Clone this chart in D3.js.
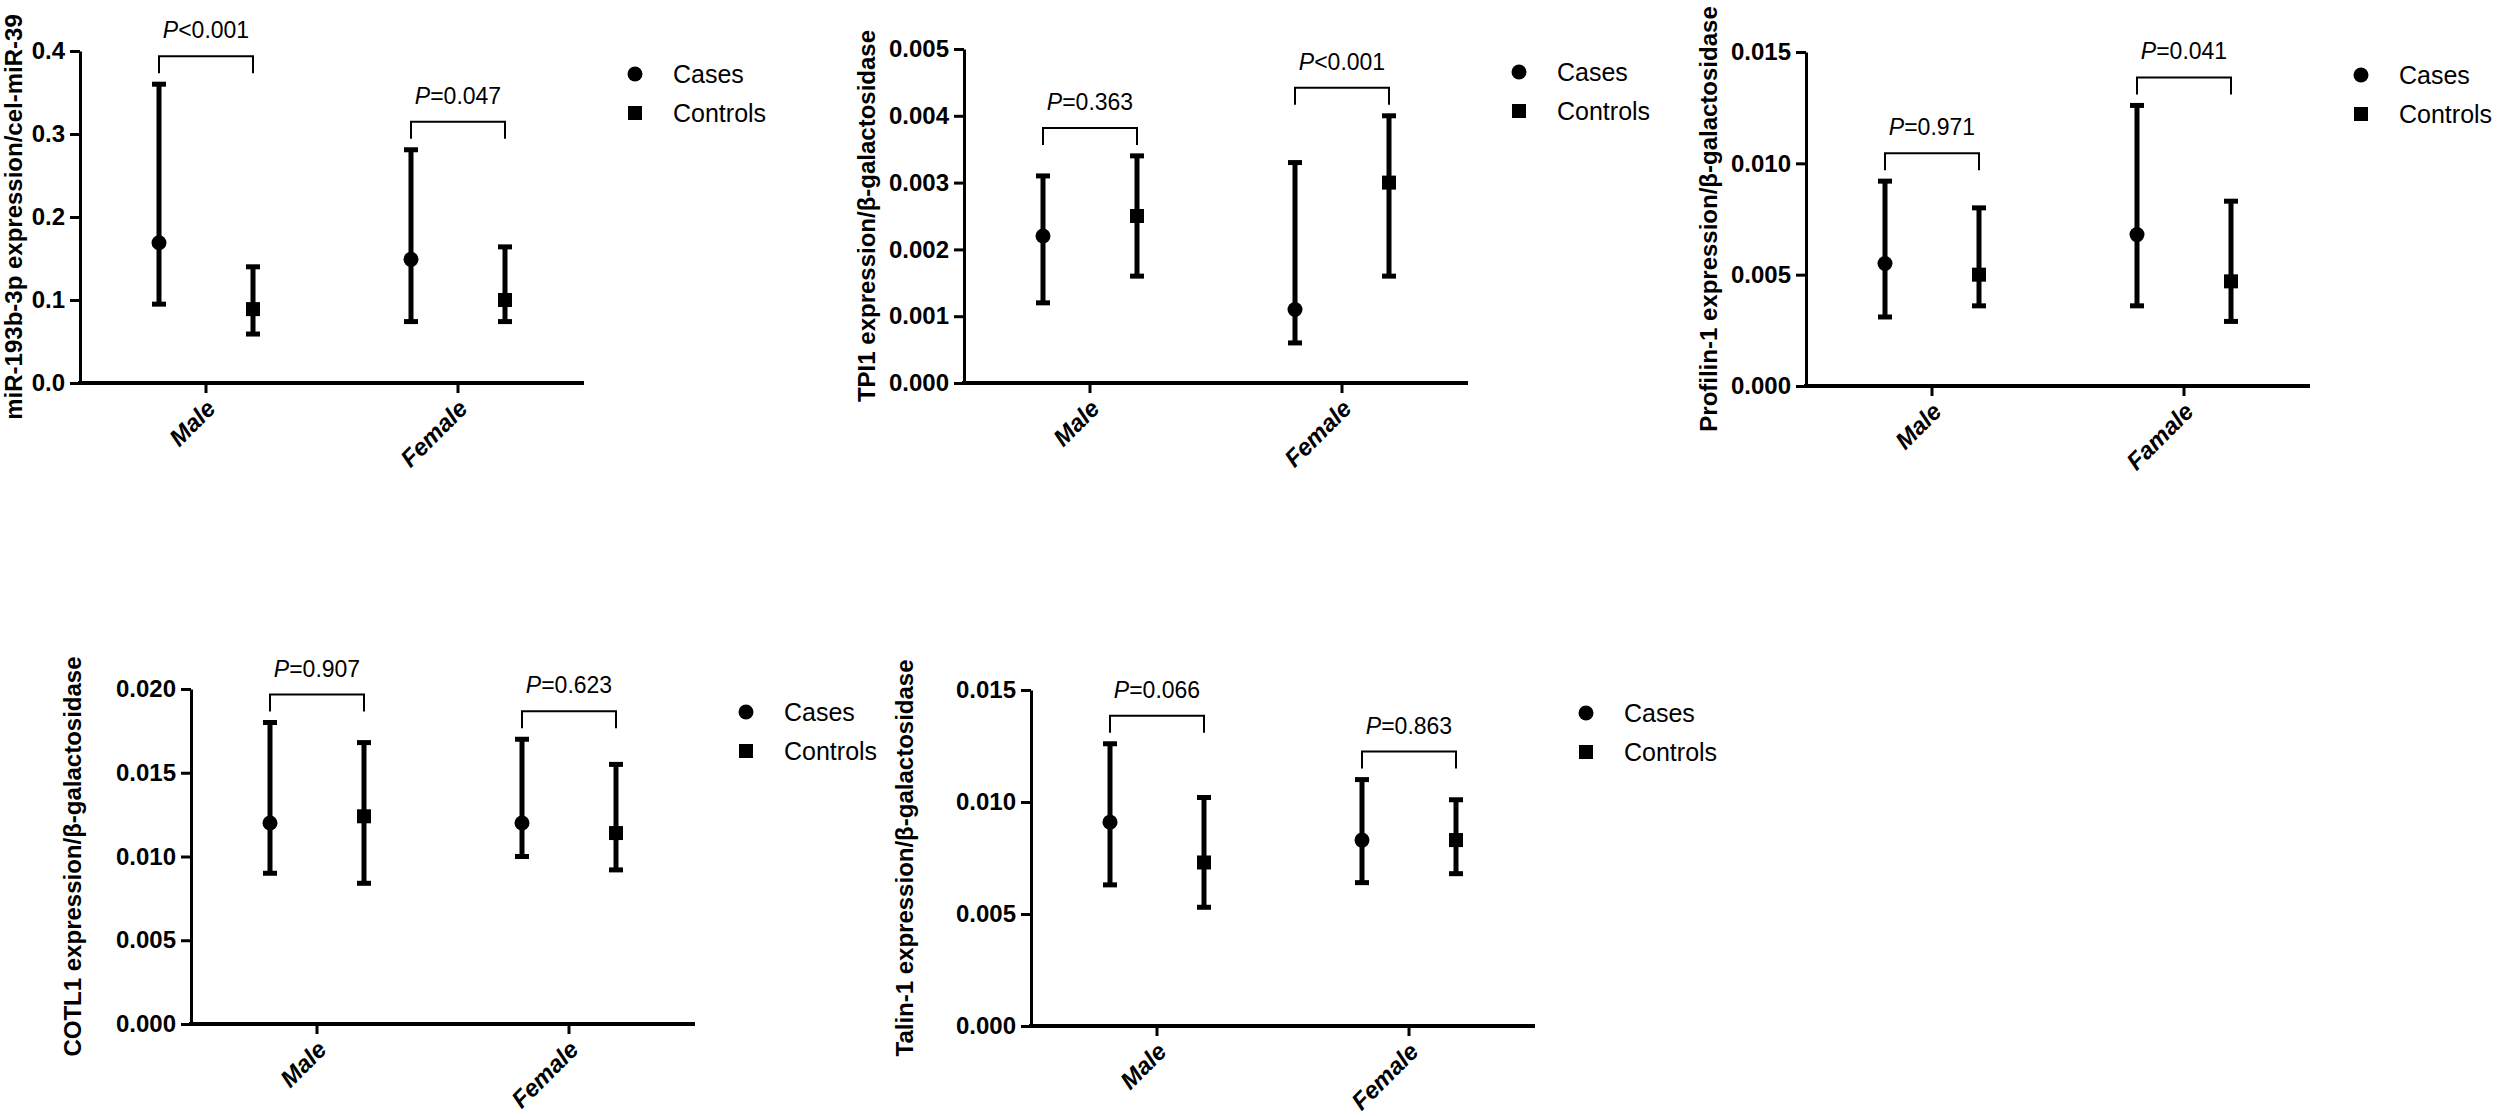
<!DOCTYPE html>
<html>
<head>
<meta charset="utf-8">
<script src="https://cdn.jsdelivr.net/npm/d3@7"></script>
<style>
  body { margin: 0; background: #fff; }
  text { font-family: "Liberation Sans", Arial, sans-serif; fill: #000; }
</style>
</head>
<body>
<svg id="chart"></svg>
<script>
// groups and series
const groups = ["Male", "Female"];
const groupsProfilin = ["Male", "Famale"];
const series = ["Cases", "Controls"];

// values in order: Male Cases, Male Controls, Female Cases, Female Controls
const mirMean = [0.169, 0.089, 0.149, 0.100];
const mirLow = [0.095, 0.059, 0.074, 0.074];
const mirHigh = [0.360, 0.140, 0.281, 0.164];
const mirP = ["<0.001", "=0.047"];
const mirTicks = [0, 0.1, 0.2, 0.3, 0.4];

const tpiMean = [0.0022, 0.0025, 0.0011, 0.0030];
const tpiLow = [0.0012, 0.0016, 0.0006, 0.0016];
const tpiHigh = [0.0031, 0.0034, 0.0033, 0.0040];
const tpiP = ["=0.363", "<0.001"];
const tpiTicks = [0, 0.001, 0.002, 0.003, 0.004, 0.005];

const pfnMean = [0.0055, 0.0050, 0.0068, 0.0047];
const pfnLow = [0.0031, 0.0036, 0.0036, 0.0029];
const pfnHigh = [0.0092, 0.0080, 0.0126, 0.0083];
const pfnP = ["=0.971", "=0.041"];
const pfnTicks = [0, 0.005, 0.010, 0.015];

const cotMean = [0.0120, 0.0124, 0.0120, 0.0114];
const cotLow = [0.0090, 0.0084, 0.0100, 0.0092];
const cotHigh = [0.0180, 0.0168, 0.0170, 0.0155];
const cotP = ["=0.907", "=0.623"];
const cotTicks = [0, 0.005, 0.010, 0.015, 0.020];

const talMean = [0.0091, 0.0073, 0.0083, 0.0083];
const talLow = [0.0063, 0.0053, 0.0064, 0.0068];
const talHigh = [0.0126, 0.0102, 0.0110, 0.0101];
const talP = ["=0.066", "=0.863"];
const talTicks = [0, 0.005, 0.010, 0.015];

const width = 2500;
const height = 1116;
const axisLen = 504;

const svg = d3.select("#chart")
    .attr("width", width)
    .attr("height", height);

// panel layout (pixels)
const panels = [
    { title: "miR-193b-3p expression/cel-miR-39", groups: groups, mean: mirMean, low: mirLow, high: mirHigh, p: mirP, ticks: mirTicks, fmt: ".1f",
      x0: 80, yTop: 51, yBot: 383, titleOff: 58 },
    { title: "TPI1 expression/\u03b2-galactosidase", groups: groups, mean: tpiMean, low: tpiLow, high: tpiHigh, p: tpiP, ticks: tpiTicks, fmt: ".3f",
      x0: 964, yTop: 49, yBot: 383, titleOff: 89 },
    { title: "Profilin-1 expression/\u03b2-galactosidase", groups: groupsProfilin, mean: pfnMean, low: pfnLow, high: pfnHigh, p: pfnP, ticks: pfnTicks, fmt: ".3f",
      x0: 1806, yTop: 52, yBot: 386, titleOff: 89 },
    { title: "COTL1 expression/\u03b2-galactosidase", groups: groups, mean: cotMean, low: cotLow, high: cotHigh, p: cotP, ticks: cotTicks, fmt: ".3f",
      x0: 191, yTop: 689, yBot: 1024, titleOff: 110 },
    { title: "Talin-1 expression/\u03b2-galactosidase", groups: groups, mean: talMean, low: talLow, high: talHigh, p: talP, ticks: talTicks, fmt: ".3f",
      x0: 1031, yTop: 690, yBot: 1026, titleOff: 118 }
];

function drawPanel(cfg) {
    const g = svg.append("g");

    const y = d3.scaleLinear()
        .domain([0, d3.max(cfg.ticks)])
        .range([cfg.yBot, cfg.yTop]);

    const xGroup = d3.scaleBand()
        .domain(cfg.groups)
        .range([cfg.x0, cfg.x0 + axisLen]);

    const xSeries = d3.scalePoint()
        .domain(series)
        .range([-47, 47]);

    // y axis
    const yAxis = g.append("g")
        .attr("transform", `translate(${cfg.x0},0)`)
        .call(d3.axisLeft(y)
            .tickValues(cfg.ticks)
            .tickFormat(d3.format(cfg.fmt))
            .tickSize(10)
            .tickSizeOuter(0)
            .tickPadding(5));
    yAxis.select(".domain").attr("stroke", "#000").attr("stroke-width", 3);
    yAxis.selectAll(".tick line").attr("stroke", "#000").attr("stroke-width", 3);
    yAxis.selectAll(".tick text")
        .style("font-size", "24px")
        .style("font-weight", "bold");

    // x axis
    const xAxis = g.append("g")
        .attr("transform", `translate(0,${cfg.yBot})`)
        .call(d3.axisBottom(xGroup)
            .tickSize(10)
            .tickSizeOuter(0));
    xAxis.select(".domain").attr("stroke", "#000").attr("stroke-width", 4)
        .attr("d", `M${cfg.x0 - 2},0H${cfg.x0 + axisLen}`);
    xAxis.selectAll(".tick line").attr("stroke", "#000").attr("stroke-width", 3);
    xAxis.selectAll(".tick text")
        .attr("x", 0)
        .attr("y", 0)
        .attr("dy", 0)
        .attr("text-anchor", "end")
        .attr("transform", "translate(11,27) rotate(-45)")
        .style("font-size", "24px")
        .style("font-weight", "bold")
        .style("font-style", "italic");

    // y title
    g.append("text")
        .attr("transform", `translate(${cfg.x0 - cfg.titleOff},${(cfg.yTop + cfg.yBot) / 2}) rotate(-90)`)
        .attr("text-anchor", "middle")
        .style("font-size", "24px")
        .style("font-weight", "bold")
        .text(cfg.title);

    // points
    const pts = [];
    cfg.groups.forEach((grp, gi) => {
        series.forEach((s, si) => {
            const k = gi * 2 + si;
            pts.push({ group: grp, series: s, mean: cfg.mean[k], low: cfg.low[k], high: cfg.high[k] });
        });
    });
    const px = d => xGroup(d.group) + xGroup.bandwidth() / 2 + xSeries(d.series);

    const bars = g.append("g");
    bars.selectAll("line.err")
        .data(pts)
        .enter().append("line")
        .attr("class", "err")
        .attr("x1", px).attr("x2", px)
        .attr("y1", d => y(d.low)).attr("y2", d => y(d.high))
        .attr("stroke", "#000").attr("stroke-width", 5);
    ["low", "high"].forEach(key => {
        bars.selectAll("line.cap-" + key)
            .data(pts)
            .enter().append("line")
            .attr("class", "cap-" + key)
            .attr("x1", d => px(d) - 7).attr("x2", d => px(d) + 7)
            .attr("y1", d => y(d[key])).attr("y2", d => y(d[key]))
            .attr("stroke", "#000").attr("stroke-width", 5);
    });
    bars.selectAll("circle")
        .data(pts.filter(d => d.series === "Cases"))
        .enter().append("circle")
        .attr("cx", px).attr("cy", d => y(d.mean))
        .attr("r", 7.5)
        .attr("fill", "#000");
    bars.selectAll("rect")
        .data(pts.filter(d => d.series === "Controls"))
        .enter().append("rect")
        .attr("x", d => px(d) - 7).attr("y", d => y(d.mean) - 7)
        .attr("width", 14).attr("height", 14)
        .attr("fill", "#000");

    // significance brackets
    cfg.groups.forEach((grp, gi) => {
        const a = pts[gi * 2], b = pts[gi * 2 + 1];
        const xa = px(a), xb = px(b);
        const legBottom = y(Math.max(a.high, b.high)) - 11;
        const top = legBottom - 17;
        g.append("path")
            .attr("d", `M${xa},${legBottom}V${top}H${xb}V${legBottom}`)
            .attr("fill", "none")
            .attr("stroke", "#000")
            .attr("stroke-width", 2);
        const t = g.append("text")
            .attr("x", (xa + xb) / 2)
            .attr("y", top - 18)
            .attr("text-anchor", "middle")
            .style("font-size", "23px");
        t.append("tspan").style("font-style", "italic").text("P");
        t.append("tspan").text(cfg.p[gi]);
    });

    // legend
    const lx = cfg.x0 + 555;
    const leg = g.append("g");
    leg.append("circle")
        .attr("cx", lx).attr("cy", cfg.yTop + 23).attr("r", 7.5).attr("fill", "#000");
    leg.append("rect")
        .attr("x", lx - 7).attr("y", cfg.yTop + 62 - 7)
        .attr("width", 14).attr("height", 14).attr("fill", "#000");
    leg.selectAll("text")
        .data(series)
        .enter().append("text")
        .attr("x", lx + 38)
        .attr("y", (d, i) => cfg.yTop + 23 + i * 39 + 9)
        .style("font-size", "25px")
        .text(d => d);
}

panels.forEach(drawPanel);
</script>
</body>
</html>
